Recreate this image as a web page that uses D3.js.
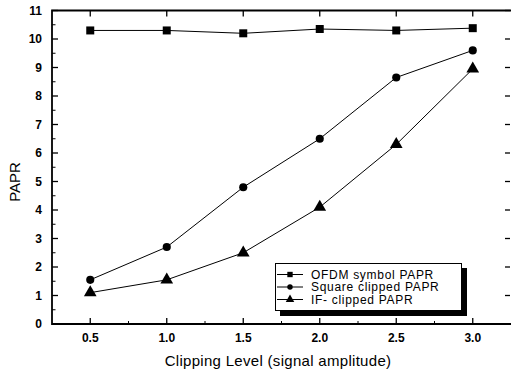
<!DOCTYPE html>
<html><head><meta charset="utf-8">
<script src="https://cdn.jsdelivr.net/npm/d3@7"></script>
<style>body{margin:0;background:#fff}svg{display:block}text{font-family:"Liberation Sans",Arial,sans-serif;fill:#000}</style>
</head><body>
<script>
const clipLevels = [0.5, 1.0, 1.5, 2.0, 2.5, 3.0];
const ofdmPAPR = [10.3, 10.3, 10.2, 10.35, 10.3, 10.38];
const squarePAPR = [1.55, 2.7, 4.8, 6.5, 8.65, 9.6];
const ifPAPR = [1.1, 1.55, 2.5, 4.1, 6.3, 8.95];
const seriesNames = ["OFDM symbol PAPR", "Square clipped PAPR", "IF- clipped PAPR"];
const xTicks = [0.5, 1.0, 1.5, 2.0, 2.5, 3.0];
const yTicks = [0,1,2,3,4,5,6,7,8,9,10,11];

const W = 511, H = 372;
const m = {l:52, r:0, t:10.5, b:48};
const svg = d3.select("body").append("svg").attr("width", W).attr("height", H);
const x = d3.scaleLinear().domain([0.25, 3.25]).range([m.l, W - m.r]);
const y = d3.scaleLinear().domain([0, 11]).range([H - m.b, m.t]);
const x0 = x.range()[0], x1 = x.range()[1], y0 = y.range()[0], y1 = y.range()[1];

const xMinor = d3.range(0.75, 3.2, 0.5);
const yMinor = d3.range(0.5, 11, 1);
const g = svg.append("g").attr("stroke", "#000");
xTicks.forEach(v => {
  g.append("line").attr("x1", x(v)).attr("x2", x(v)).attr("y1", y0).attr("y2", y0 - 6).attr("stroke-width", 1.3);
  g.append("line").attr("x1", x(v)).attr("x2", x(v)).attr("y1", y1).attr("y2", y1 + 6).attr("stroke-width", 1.3);
});
xMinor.forEach(v => {
  g.append("line").attr("x1", x(v)).attr("x2", x(v)).attr("y1", y0).attr("y2", y0 - 3).attr("stroke-width", 1);
});
yTicks.forEach(v => {
  g.append("line").attr("x1", x0).attr("x2", x0 + 6).attr("y1", y(v)).attr("y2", y(v)).attr("stroke-width", 1.3);
  g.append("line").attr("x1", x1 - 1).attr("x2", x1 - 6).attr("y1", y(v)).attr("y2", y(v)).attr("stroke-width", 1.3);
});
yMinor.forEach(v => {
  g.append("line").attr("x1", x0).attr("x2", x0 + 3.5).attr("y1", y(v)).attr("y2", y(v)).attr("stroke-width", 1);
});
g.append("path").attr("fill", "none").attr("stroke-width", 1.8)
  .attr("d", `M${x1},${y1}H${x0}V${y0}H${x1}`);

svg.append("g").selectAll("text").data(xTicks).join("text")
  .attr("x", d => x(d)).attr("y", y0 + 18).attr("text-anchor", "middle")
  .attr("font-size", 12).attr("font-weight", "bold").text(d => d.toFixed(1));
svg.append("g").selectAll("text").data(yTicks).join("text")
  .attr("x", x0 - 10).attr("y", d => y(d) + 4).attr("text-anchor", "end")
  .attr("font-size", 12).attr("font-weight", "bold").text(d => d);

svg.append("text").attr("x", 278).attr("y", 366).attr("text-anchor", "middle")
  .attr("font-size", 15).attr("letter-spacing", 0.3).text("Clipping Level (signal amplitude)");
svg.append("text").attr("transform", "translate(20,182) rotate(-90)").attr("text-anchor", "middle")
  .attr("font-size", 15).text("PAPR");

const series = [ofdmPAPR, squarePAPR, ifPAPR];
const shapes = [d3.symbolSquare, d3.symbolCircle, d3.symbolTriangle];
const sizes = [64, 52, 70];
const line = d3.line().x((d, i) => x(clipLevels[i])).y(d => y(d));
series.forEach((s, k) => {
  svg.append("path").datum(s).attr("fill", "none").attr("stroke", "#000").attr("stroke-width", 1).attr("d", line);
  svg.append("g").selectAll("path").data(s).join("path")
    .attr("transform", (d, i) => `translate(${x(clipLevels[i])},${y(d)})`)
    .attr("d", d3.symbol().type(shapes[k]).size(sizes[k])).attr("fill", "#000");
});

const lg = svg.append("g");
lg.append("rect").attr("x", 280).attr("y", 268).attr("width", 187).attr("height", 48).attr("fill", "#000");
lg.append("rect").attr("x", 275.5).attr("y", 263.5).attr("width", 186).attr("height", 47).attr("fill", "#fff").attr("stroke", "#000").attr("stroke-width", 1);
seriesNames.forEach((n, k) => {
  const yy = 274.5 + k * 12.5;
  lg.append("line").attr("x1", 277).attr("x2", 303).attr("y1", yy).attr("y2", yy).attr("stroke", "#000").attr("stroke-width", 1);
  lg.append("path").attr("transform", `translate(290,${yy})`).attr("d", d3.symbol().type(shapes[k]).size(sizes[k] * 0.45)).attr("fill", "#000");
  lg.append("text").attr("x", 311).attr("y", yy + 4.2).attr("font-size", 12).attr("letter-spacing", 0.7).text(n);
});
</script>
</body></html>
